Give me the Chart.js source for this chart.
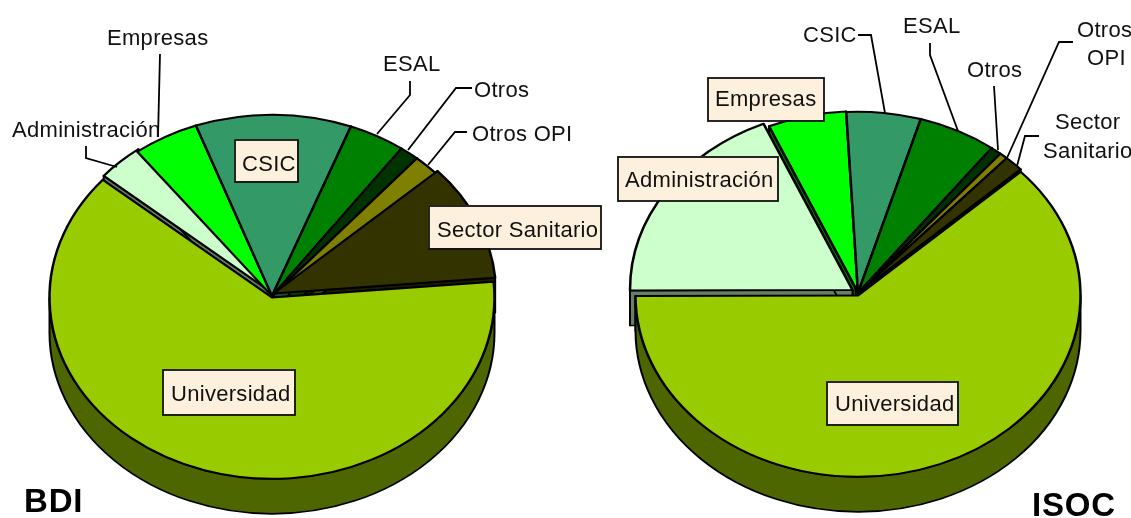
<!DOCTYPE html>
<html>
<head>
<meta charset="utf-8">
<title>BDI / ISOC</title>
<script src="https://cdn.jsdelivr.net/npm/chart.js@4"></script>
<style>
  html, body { margin: 0; padding: 0; background: #fff; }
  canvas { position: absolute; left: 0; top: 0; }
</style>
</head>
<body>
<canvas id="bdi" width="1131" height="518"></canvas>
<canvas id="isoc" width="1131" height="518"></canvas>
<script>
const categories = ['Universidad', 'Administración', 'Empresas', 'CSIC', 'ESAL', 'Otros', 'Otros OPI', 'Sector Sanitario'];
const bdiValues = [62.5, 3.4, 4.8, 11.3, 4.1, 1.4, 1.9, 10.4];
const isocValues = [61.9, 18.5, 5.7, 5.4, 5.7, 0.8, 0.6, 1.4];

const topColors = ['#99cc00', '#ccffcc', '#00ff00', '#339966', '#008000', '#003300', '#808000', '#333300'];
const wallColors = ['#4d6600', '#668066', '#007a00', '#1a4d33', '#004000', '#001a00', '#404000', '#1a1a00'];

const SQUASH = 0.815;
const DEPTH = 35;
const FONT = '22px "Liberation Sans", Arial, sans-serif';

// 3d look: walls go under the arcs, then the library draws the arcs squashed
const tiltPlugin = {
  id: 'tilt',
  afterDatasetsUpdate(chart, args, opts) {
    // pull some slices out of the pie, in page pixels
    chart.getDatasetMeta(0).data.forEach((arc, i) => {
      const n = opts.nudges[i];
      arc.x += n[0];
      arc.y += n[1] / SQUASH;
    });
  },
  beforeDatasetsDraw(chart, args, opts) {
    const ctx = chart.ctx;
    const arcs = chart.getDatasetMeta(0).data;
    const midY = (chart.chartArea.top + chart.chartArea.bottom) / 2;
    ctx.save();
    ctx.translate(0, opts.centerY);
    ctx.scale(1, SQUASH);
    ctx.translate(0, -midY);
    const d = DEPTH / SQUASH;
    ctx.strokeStyle = '#000';
    ctx.lineWidth = 2;
    ctx.lineJoin = 'round';
    // side cuts first, backwards so Administración stays on top in the gaps
    arcs.map((arc, i) => i).reverse().forEach((i) => {
      const arc = arcs[i];
      ctx.fillStyle = wallColors[i];
      [arc.startAngle, arc.endAngle].forEach((a) => {
        const ex = arc.x + Math.cos(a) * arc.outerRadius;
        const ey = arc.y + Math.sin(a) * arc.outerRadius;
        ctx.beginPath();
        ctx.moveTo(arc.x, arc.y);
        ctx.lineTo(ex, ey);
        ctx.lineTo(ex, ey + d);
        ctx.lineTo(arc.x, arc.y + d);
        ctx.closePath();
        ctx.fill();
        ctx.stroke();
      });
    });
    // then the rim, only the front half is visible
    arcs.forEach((arc, i) => {
      ctx.fillStyle = wallColors[i];
      [-2, 0, 2].forEach((k) => {
        const lo = Math.max(arc.startAngle, k * Math.PI);
        const hi = Math.min(arc.endAngle, (k + 1) * Math.PI);
        if (hi <= lo) return;
        ctx.beginPath();
        ctx.arc(arc.x, arc.y, arc.outerRadius, lo, hi);
        ctx.arc(arc.x, arc.y + d, arc.outerRadius, hi, lo, true);
        ctx.closePath();
        ctx.fill();
        ctx.stroke();
      });
    });
  },
  afterDatasetsDraw(chart) {
    chart.ctx.restore();
  },
  afterDraw(chart, args, opts) {
    const ctx = chart.ctx;
    ctx.save();
    ctx.strokeStyle = '#000';
    ctx.lineWidth = 1.8;
    opts.leaders.forEach((pts) => {
      ctx.beginPath();
      pts.forEach((p, i) => (i ? ctx.lineTo(p[0], p[1]) : ctx.moveTo(p[0], p[1])));
      ctx.stroke();
    });
    opts.boxes.forEach((b) => {
      ctx.fillStyle = '#fdf0dc';
      ctx.fillRect(b[0] - 1, b[1] - 1, b[2], b[3]);
      ctx.lineWidth = 1.8;
      ctx.strokeStyle = '#111';
      ctx.strokeRect(b[0], b[1], b[2], b[3]);
    });
    ctx.fillStyle = '#111';
    ctx.font = FONT;
    ctx.letterSpacing = '0.3px';
    ctx.textAlign = 'left';
    ctx.textBaseline = 'alphabetic';
    opts.texts.forEach((t) => ctx.fillText(t[0], t[1], t[2]));
    ctx.font = 'bold 33px "Liberation Sans", Arial, sans-serif';
    ctx.letterSpacing = '0.8px';
    ctx.fillStyle = '#000';
    ctx.fillText(opts.title[0], opts.title[1], opts.title[2]);
    ctx.restore();
  }
};

function makePie(id, values, rotation, padding, tilt) {
  return new Chart(document.getElementById(id), {
    type: 'pie',
    data: {
      labels: categories,
      datasets: [{
        data: values,
        backgroundColor: topColors,
        borderColor: '#000',
        borderWidth: 2.5,
        borderJoinStyle: 'round',
        clip: false
      }]
    },
    options: {
      responsive: false,
      animation: false,
      events: [],
      rotation: rotation,
      radius: 222.5,
      layout: { padding: padding },
      plugins: { legend: { display: false }, tooltip: { enabled: false }, tilt: tilt }
    },
    plugins: [tiltPlugin]
  });
}

makePie('bdi', bdiValues, 85, { right: 587 }, {
  centerY: 296,
  nudges: [[0, 1.5], [1, -2.5], [0, 0], [0, 0], [0, 0], [0, 0], [0, 0], [1.5, -2.5]],
  title: ['BDI', 24, 512],
  leaders: [
    [[160, 54], [158, 137]],
    [[86, 146], [86, 158], [117, 167]],
    [[410, 81], [410, 95], [377, 134]],
    [[472, 88], [456, 88], [408, 150]],
    [[467, 132], [455, 132], [428, 165]]
  ],
  boxes: [
    [235, 140, 63, 42],
    [429, 206, 172, 43],
    [163, 370, 132, 45]
  ],
  texts: [
    ['Empresas', 107, 45],
    ['Administración', 12, 137],
    ['ESAL', 383, 71],
    ['Otros', 474, 97],
    ['Otros OPI', 472, 141],
    ['CSIC', 242, 171],
    ['Sector Sanitario', 437, 237],
    ['Universidad', 171, 401]
  ]
});

makePie('isoc', isocValues, 47, { left: 585 }, {
  centerY: 293,
  nudges: [[0, 2.5], [-5.5, -3], [0, -0.5], [0, 0], [0, 0], [0, 0], [0, 0], [0, 0]],
  title: ['ISOC', 1032, 516],
  leaders: [
    [[858, 35], [871, 35], [885, 113]],
    [[930, 43], [930, 55], [958, 131]],
    [[994, 86], [998, 150]],
    [[1073, 42], [1059, 42], [1007, 158]],
    [[1039, 136], [1025, 136], [1017, 166]]
  ],
  boxes: [
    [708, 78, 116, 43],
    [618, 157, 160, 44],
    [827, 382, 131, 43]
  ],
  texts: [
    ['CSIC', 803, 42],
    ['ESAL', 903, 33],
    ['Otros', 967, 77],
    ['Otros', 1077, 37],
    ['OPI', 1087, 65],
    ['Sector', 1055, 129],
    ['Sanitario', 1043, 158],
    ['Empresas', 715, 106],
    ['Administración', 625, 187],
    ['Universidad', 835, 411]
  ]
});
</script>
</body>
</html>
